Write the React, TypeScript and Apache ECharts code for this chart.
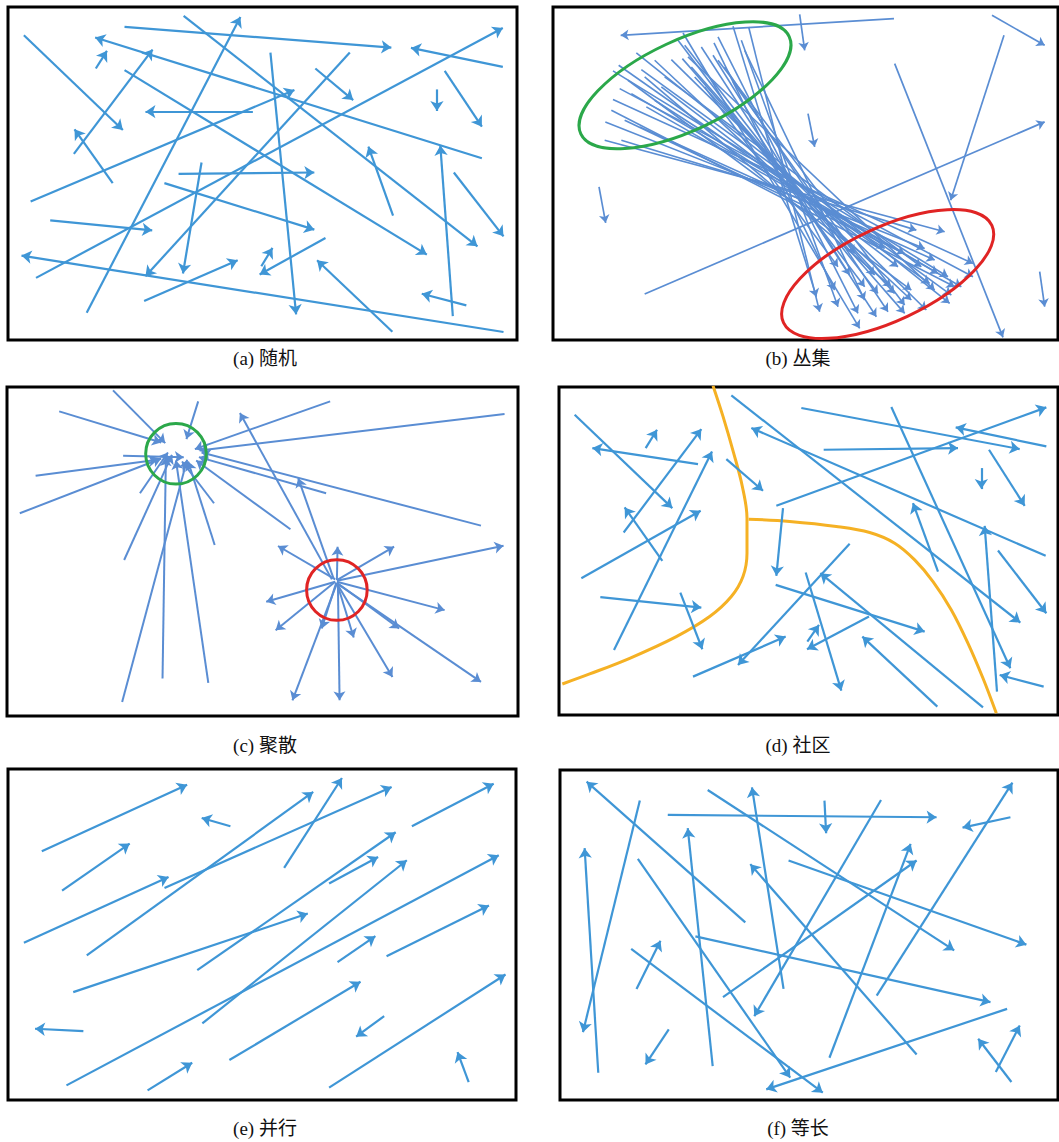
import React, { useEffect, useRef } from "react";
import * as echarts from "echarts";

type Arrow = [number, number, number, number];

// (a) random
const A_ARROWS: Arrow[] = [
  [72, 105, 365, 390], [285, 205, 318, 152], [370, 80, 1160, 142], [545, 47, 1415, 740],
  [258, 940, 713, 50], [1490, 200, 1218, 143], [108, 835, 1490, 83], [1428, 475, 283, 112],
  [220, 462, 453, 148], [370, 210, 1265, 765], [750, 335, 432, 335], [92, 605, 873, 270],
  [802, 157, 878, 945], [1037, 157, 432, 830], [935, 205, 1047, 300], [1295, 268, 1295, 333],
  [1318, 212, 1428, 380], [335, 550, 222, 388], [530, 522, 932, 518], [598, 488, 543, 822],
  [488, 550, 932, 690], [1165, 648, 1092, 440], [1342, 950, 1305, 437], [1345, 518, 1492, 710],
  [150, 662, 452, 692], [1492, 998, 65, 768], [428, 905, 705, 782], [775, 800, 808, 745],
  [965, 715, 770, 825], [1163, 997, 940, 782], [1382, 918, 1250, 883],
];

// (b) cluster: lone arrows
const B_SINGLE: Arrow[] = [
  [1048, 55, 228, 105], [765, 42, 780, 150], [1342, 45, 1500, 135], [1378, 105, 1218, 600],
  [1050, 190, 1375, 1012], [300, 882, 1500, 365], [790, 340, 810, 440], [163, 560, 183, 668],
  [1485, 815, 1500, 920],
];
// (b) cluster: bundle from green to red
const B_BUNDLE: Arrow[] = [
  [565, 78, 815, 890], [612, 80, 825, 935], [415, 98, 945, 985], [508, 128, 870, 870],
  [505, 165, 915, 825], [470, 140, 995, 950], [600, 150, 960, 900], [565, 245, 930, 760],
  [540, 200, 1030, 935], [520, 180, 1080, 915], [413, 175, 1080, 940], [420, 135, 1000, 880],
  [380, 178, 1145, 930], [440, 200, 990, 825], [480, 260, 880, 800], [275, 158, 1215, 910],
  [290, 208, 1220, 885], [222, 195, 1155, 850], [205, 212, 1210, 830], [300, 230, 1040, 860],
  [250, 240, 1100, 870], [225, 265, 1285, 830], [350, 260, 1060, 800], [205, 298, 1285, 790],
  [330, 300, 1020, 745], [305, 320, 1250, 860], [182, 365, 1140, 745], [285, 380, 1170, 780],
  [180, 420, 1200, 695], [230, 420, 1115, 690], [400, 120, 960, 860], [330, 180, 1100, 900],
  [260, 280, 1180, 820], [200, 330, 1230, 860], [450, 230, 1050, 880], [590, 120, 880, 920],
  [520, 110, 940, 940], [360, 230, 1130, 800], [240, 360, 1080, 760], [430, 170, 1170, 870],
];
// ellipses: cx, cy, semi-major, semi-minor, angle(deg)
const B_GREEN_ELLIPSE = [421, 255, 345, 135, 25];
const B_RED_ELLIPSE = [1029, 822, 345, 140, 25];

// (c) gather / scatter
const C_GATHER: Arrow[] = [
  [335, 32, 490, 190], [175, 95, 478, 188], [588, 65, 553, 178], [980, 65, 578, 208],
  [1498, 103, 592, 212], [365, 228, 545, 232], [105, 288, 468, 240], [58, 400, 478, 236],
  [415, 340, 498, 218], [368, 540, 510, 225], [482, 895, 492, 232], [362, 965, 555, 240],
  [618, 908, 522, 242], [637, 495, 558, 245], [635, 370, 540, 245], [862, 448, 582, 242],
  [968, 340, 590, 232], [1428, 437, 598, 218],
];
const C_SCATTER: Arrow[] = [
  [985, 598, 712, 100], [990, 595, 885, 295], [995, 598, 825, 498], [1000, 600, 1002, 500],
  [1000, 600, 1170, 500], [1000, 602, 1495, 497], [995, 605, 790, 665], [995, 605, 818, 750],
  [998, 608, 955, 745], [1000, 608, 1050, 772], [1000, 605, 1320, 690], [1000, 608, 1185, 745],
  [1000, 610, 1165, 890], [1000, 610, 1428, 905], [1000, 610, 868, 960], [1003, 610, 1008, 960],
];
const C_GREEN_CIRCLE = [522, 222, 90, 90, 0];
const C_RED_CIRCLE = [1000, 630, 90, 90, 0];

// (d) community
const D_ARROWS: Arrow[] = [
  [75, 105, 368, 385], [288, 205, 322, 150], [445, 253, 128, 205], [222, 458, 455, 148],
  [95, 595, 453, 393], [338, 543, 225, 383], [193, 810, 487, 215], [152, 652, 455, 683],
  [392, 638, 458, 808], [530, 238, 640, 333], [545, 47, 1412, 728], [1488, 528, 605, 145],
  [755, 85, 1410, 208], [680, 378, 1490, 83], [822, 210, 1225, 205], [1490, 200, 1218, 143],
  [1025, 82, 1382, 865], [1295, 265, 1295, 328], [1318, 210, 1425, 378], [700, 385, 680, 588],
  [1165, 575, 1090, 370], [1342, 935, 1305, 438], [1345, 512, 1490, 700], [678, 615, 1125, 755],
  [900, 492, 565, 855], [768, 578, 875, 932], [1300, 982, 812, 580], [430, 890, 708, 770],
  [773, 785, 808, 735], [958, 710, 772, 808], [1163, 980, 938, 770], [1482, 920, 1350, 885],
];
const D_BORDER_LEFT: [number, number][] = [
  [490, 18], [520, 110], [552, 220], [578, 320], [592, 415], [592, 520], [580, 590],
  [545, 650], [480, 710], [380, 770], [240, 835], [120, 882], [38, 912],
];
const D_BORDER_RIGHT: [number, number][] = [
  [597, 418], [720, 425], [860, 440], [960, 458], [1035, 490], [1095, 540], [1150, 605],
  [1205, 690], [1255, 790], [1300, 895], [1340, 1000],
];

// (e) parallel
const E_ARROWS: Arrow[] = [
  [125, 275, 555, 75], [185, 393, 385, 252], [683, 200, 598, 175], [72, 550, 500, 352],
  [258, 588, 928, 97], [488, 385, 1160, 82], [842, 325, 1013, 55], [1220, 200, 1462, 72],
  [585, 632, 1172, 218], [975, 372, 1120, 292], [218, 698, 912, 462], [600, 792, 1205, 302],
  [198, 978, 1477, 287], [1000, 608, 1112, 530], [1145, 590, 1448, 438], [248, 815, 105, 808],
  [680, 902, 1068, 667], [1138, 770, 1055, 832], [438, 993, 570, 910], [975, 985, 1497, 645],
  [1388, 968, 1355, 878],
];

// (f) equal length
const F_ARROWS: Arrow[] = [
  [585, 488, 108, 65], [268, 122, 97, 818], [143, 940, 102, 265], [352, 165, 1160, 172],
  [823, 122, 828, 220], [472, 90, 1213, 572], [700, 688, 605, 82], [993, 120, 612, 770],
  [487, 920, 412, 205], [262, 297, 720, 955], [715, 302, 1430, 555], [1100, 885, 600, 313],
  [838, 895, 1082, 252], [518, 713, 1100, 302], [980, 708, 1388, 68], [1382, 172, 1238, 203],
  [435, 530, 1322, 728], [242, 568, 818, 1000], [258, 688, 330, 543], [355, 810, 285, 915],
  [1372, 748, 648, 990], [1385, 968, 1285, 838], [1338, 938, 1410, 798],
];

const CAPTIONS = ["(a) 随机", "(b) 丛集", "(c) 聚散", "(d) 社区", "(e) 并行", "(f) 等长"];

// layout
const PANELS = [
  { x: [25, 1532], y: [20, 1022], grid: { left: 8, top: 7, width: 509, height: 333 }, cap: [265, 358] },
  { x: [25, 1540], y: [20, 1020], grid: { left: 553, top: 7, width: 505, height: 333 }, cap: [798, 358] },
  { x: [20, 1538], y: [22, 1007], grid: { left: 7, top: 387, width: 511, height: 329 }, cap: [265, 745] },
  { x: [28, 1525], y: [22, 1005], grid: { left: 559, top: 387, width: 499, height: 328 }, cap: [798, 745] },
  { x: [25, 1528], y: [28, 1022], grid: { left: 8, top: 769, width: 508, height: 331 }, cap: [265, 1128] },
  { x: [28, 1525], y: [30, 1022], grid: { left: 560, top: 770, width: 498, height: 330 }, cap: [798, 1128] },
];

const BLUE = "#3f96d6";
const BLUE2 = "#5a8dd3";

function arrowSeries(i: number, arrows: Arrow[], color: string, width: number, size: number) {
  return {
    type: "lines",
    coordinateSystem: "cartesian2d",
    xAxisIndex: i,
    yAxisIndex: i,
    silent: true,
    z: 3,
    symbol: ["none", "arrow"],
    symbolSize: size,
    lineStyle: { color, width, opacity: 1, curveness: 0 },
    data: arrows.map((a) => ({ coords: [[a[0], a[1]], [a[2], a[3]]] })),
  };
}

function ellipseSeries(i: number, e: number[], color: string) {
  return {
    type: "custom",
    coordinateSystem: "cartesian2d",
    xAxisIndex: i,
    yAxisIndex: i,
    silent: true,
    z: 4,
    encode: { x: 0, y: 1 },
    data: [e],
    renderItem: (_p: any, api: any) => {
      const c = api.coord([api.value(0), api.value(1)]);
      const rx = api.size([api.value(2), 0])[0];
      const ry = api.size([api.value(3), 0])[0];
      return {
        type: "ellipse",
        x: c[0],
        y: c[1],
        rotation: (api.value(4) * Math.PI) / 180,
        shape: { cx: 0, cy: 0, rx, ry },
        style: { fill: "none", stroke: color, lineWidth: 3 },
      };
    },
  };
}

function curveSeries(i: number, pts: [number, number][]) {
  return {
    type: "line",
    xAxisIndex: i,
    yAxisIndex: i,
    silent: true,
    z: 2,
    smooth: 0.35,
    symbol: "none",
    lineStyle: { color: "#f5b124", width: 3 },
    data: pts,
  };
}

export default function App() {
  const ref = useRef<HTMLDivElement>(null);
  useEffect(() => {
    if (!ref.current) return;
    const chart = echarts.init(ref.current, undefined, { renderer: "svg" });
    const option: any = {
      animation: false,
      backgroundColor: "#fff",
      grid: PANELS.map((p) => ({
        ...p.grid,
        show: true,
        borderColor: "#000",
        borderWidth: 3,
        backgroundColor: "#fff",
        containLabel: false,
      })),
      xAxis: PANELS.map((p, i) => ({ type: "value", gridIndex: i, min: p.x[0], max: p.x[1], show: false })),
      yAxis: PANELS.map((p, i) => ({ type: "value", gridIndex: i, min: p.y[0], max: p.y[1], inverse: true, show: false })),
      series: [
        arrowSeries(0, A_ARROWS, BLUE, 2.2, 10),
        arrowSeries(1, B_SINGLE, BLUE2, 1.7, 8),
        arrowSeries(1, B_BUNDLE, BLUE2, 1.6, 8),
        ellipseSeries(1, B_GREEN_ELLIPSE, "#2ba84a"),
        ellipseSeries(1, B_RED_ELLIPSE, "#e02424"),
        arrowSeries(2, C_GATHER, BLUE2, 2, 9),
        arrowSeries(2, C_SCATTER, BLUE2, 2, 9),
        ellipseSeries(2, C_GREEN_CIRCLE, "#2ba84a"),
        ellipseSeries(2, C_RED_CIRCLE, "#e02424"),
        curveSeries(3, D_BORDER_LEFT),
        curveSeries(3, D_BORDER_RIGHT),
        arrowSeries(3, D_ARROWS, BLUE, 2.2, 10),
        arrowSeries(4, E_ARROWS, BLUE, 2.2, 10),
        arrowSeries(5, F_ARROWS, BLUE, 2.2, 10),
      ],
      graphic: CAPTIONS.map((t, i) => ({
        type: "text",
        x: PANELS[i].cap[0],
        y: PANELS[i].cap[1],
        silent: true,
        style: {
          text: t,
          font: '19px "Liberation Serif", "Noto Sans CJK SC", serif',
          fill: "#111",
          align: "center",
          verticalAlign: "middle",
          textAlign: "center",
          textVerticalAlign: "middle",
        },
      })),
    };
    chart.setOption(option);
    return () => chart.dispose();
  }, []);
  return (
    <div
      ref={ref}
      style={{ position: "absolute", left: 0, top: 0, width: 1059, height: 1142, background: "#fff" }}
    />
  );
}
